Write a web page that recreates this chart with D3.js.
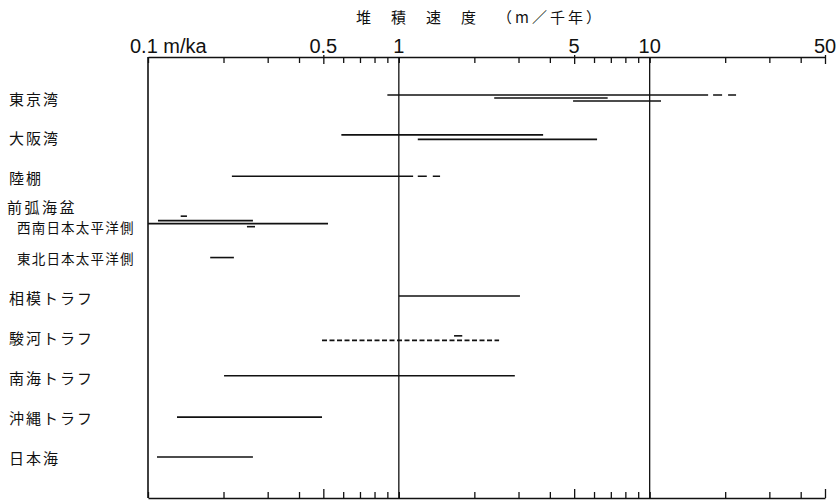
<!DOCTYPE html>
<html>
<head>
<meta charset="utf-8">
<script src="https://cdn.jsdelivr.net/npm/d3@7"></script>
<style>
  body { margin: 0; background: #fff; }
  .jp { font-family: "Noto Sans CJK JP", sans-serif; fill: #111; }
  .num { font-family: "Liberation Sans", Arial, sans-serif; fill: #111; }
</style>
</head>
<body>
<div id="chart"></div>
<script>
// Rows (top to bottom)
const rows = ["東京湾", "大阪湾", "陸棚", "西南日本太平洋側", "東北日本太平洋側",
              "相模トラフ", "駿河トラフ", "南海トラフ", "沖縄トラフ", "日本海"];
const subRows = ["西南日本太平洋側", "東北日本太平洋側"];
const groupLabel = "前弧海盆";

// Tick labels on the top axis
const tickValues = [0.1, 0.5, 1, 5, 10, 50];
const tickLabels = ["0.1 m/ka", "0.5", "1", "5", "10", "50"];
const refLines = [1, 10];

// Sedimentation rate ranges (m/ka); lane = stacking order inside a row
const segments = [
  { row: "東京湾", from: 0.9, to: 17.1, kind: "solid", lane: -1 },
  { row: "東京湾", from: 17.9, to: 22.1, kind: "ext", lane: -1 },
  { row: "東京湾", from: 2.4, to: 6.8, kind: "solid", lane: 0 },
  { row: "東京湾", from: 4.95, to: 11.1, kind: "solid", lane: 1 },
  { row: "大阪湾", from: 0.59, to: 3.76, kind: "solid", lane: -1 },
  { row: "大阪湾", from: 1.19, to: 6.17, kind: "solid", lane: 0.5 },
  { row: "陸棚", from: 0.216, to: 1.14, kind: "solid", lane: -0.5 },
  { row: "陸棚", from: 1.19, to: 1.46, kind: "ext", lane: -0.5 },
  { row: "西南日本太平洋側", from: 0.135, to: 0.143, kind: "solid", lane: -0.5 },
  { row: "西南日本太平洋側", from: 0.1096, to: 0.262, kind: "solid", lane: 1 },
  { row: "西南日本太平洋側", from: 0.1, to: 0.522, kind: "solid", lane: 2 },
  { row: "西南日本太平洋側", from: 0.248, to: 0.267, kind: "solid", lane: 3 },
  { row: "東北日本太平洋側", from: 0.177, to: 0.22, kind: "solid", lane: 0 },
  { row: "相模トラフ", from: 1.0, to: 3.04, kind: "solid", lane: -0.5 },
  { row: "駿河トラフ", from: 0.494, to: 2.51, kind: "dashed", lane: 1 },
  { row: "駿河トラフ", from: 1.66, to: 1.79, kind: "solid", lane: -0.5 },
  { row: "南海トラフ", from: 0.201, to: 2.9, kind: "solid", lane: -0.5 },
  { row: "沖縄トラフ", from: 0.1305, to: 0.494, kind: "solid", lane: 0 },
  { row: "日本海", from: 0.1086, to: 0.262, kind: "solid", lane: 0 }
];

const width = 836, height = 500;
const plot = { left: 148, right: 825, top: 57, bottom: 498 };
const laneGap = 3;

const svg = d3.select("#chart")
  .append("svg")
  .attr("width", width)
  .attr("height", height);

const x = d3.scaleLog()
  .domain([0.1, 50])
  .range([plot.left, plot.right]);

const y = d3.scalePoint()
  .domain(rows)
  .range([98, 457]);

// Title
svg.append("text")
  .attr("class", "jp")
  .attr("x", 356).attr("y", 23)
  .attr("font-size", 15)
  .attr("letter-spacing", 20)
  .text("堆積速度");
svg.append("text")
  .attr("class", "jp")
  .attr("x", 497).attr("y", 23)
  .attr("font-size", 15)
  .attr("letter-spacing", 3)
  .text("（m／千年）");

// Top axis (ticks pointing inward)
const topAxis = svg.append("g")
  .attr("transform", `translate(0,${plot.top})`)
  .call(d3.axisTop(x).tickSize(-6).tickSizeOuter(0).tickFormat(""));

// Bottom axis
const bottomAxis = svg.append("g")
  .attr("transform", `translate(0,${plot.bottom})`)
  .call(d3.axisBottom(x).tickSize(-6).tickSizeOuter(0).tickFormat(""));

[topAxis, bottomAxis].forEach(g => {
  g.select(".domain").attr("stroke", "#111").attr("stroke-width", 1.6);
  g.selectAll(".tick line").attr("stroke", "#111").attr("stroke-width", 1.3);
});
// longer ticks at the 5s
const isFive = d => Math.abs(d / Math.pow(10, Math.floor(Math.log10(d) + 1e-9)) - 5) < 1e-6;
topAxis.selectAll(".tick line").filter(isFive).attr("y1", -2).attr("y2", 7);
bottomAxis.selectAll(".tick line").filter(isFive).attr("y1", 0).attr("y2", -9);

// Tick labels
svg.append("g")
  .selectAll("text")
  .data(tickValues)
  .join("text")
  .attr("class", "num")
  .attr("x", (d, i) => i === 0 ? x(d) - 18 : x(d))
  .attr("y", 53)
  .attr("font-size", 20)
  .attr("text-anchor", (d, i) => i === 0 ? "start" : "middle")
  .text((d, i) => tickLabels[i]);

// Left axis line and reference lines at 1 and 10
svg.append("line")
  .attr("x1", x(0.1)).attr("x2", x(0.1))
  .attr("y1", plot.top).attr("y2", plot.bottom)
  .attr("stroke", "#111").attr("stroke-width", 1.6);

svg.append("g")
  .selectAll("line")
  .data(refLines)
  .join("line")
  .attr("x1", d => x(d)).attr("x2", d => x(d))
  .attr("y1", plot.top).attr("y2", plot.bottom)
  .attr("stroke", "#111").attr("stroke-width", 1.3);

// Range bars
const dashFor = { solid: null, dashed: "5,2.5", ext: "9,6" };
svg.append("g")
  .selectAll("line")
  .data(segments)
  .join("line")
  .attr("x1", d => x(d.from))
  .attr("x2", d => x(d.to))
  .attr("y1", d => y(d.row) + d.lane * laneGap)
  .attr("y2", d => y(d.row) + d.lane * laneGap)
  .attr("stroke", "#111")
  .attr("stroke-width", 1.6)
  .attr("stroke-dasharray", d => dashFor[d.kind]);

// Row labels
const labelShift = { "西南日本太平洋側": 9 };
svg.append("g")
  .selectAll("text")
  .data(rows)
  .join("text")
  .attr("class", "jp")
  .attr("x", d => subRows.includes(d) ? 17 : 9)
  .attr("y", d => y(d) + (labelShift[d] || 0))
  .attr("dominant-baseline", "central")
  .attr("font-size", d => subRows.includes(d) ? 13.5 : 15)
  .attr("letter-spacing", d => subRows.includes(d) ? 1.2 : 2)
  .text(d => d);

svg.append("text")
  .attr("class", "jp")
  .attr("x", 7)
  .attr("y", y("西南日本太平洋側") - 11)
  .attr("dominant-baseline", "central")
  .attr("font-size", 15)
  .attr("letter-spacing", 2.5)
  .text(groupLabel);
</script>
</body>
</html>
